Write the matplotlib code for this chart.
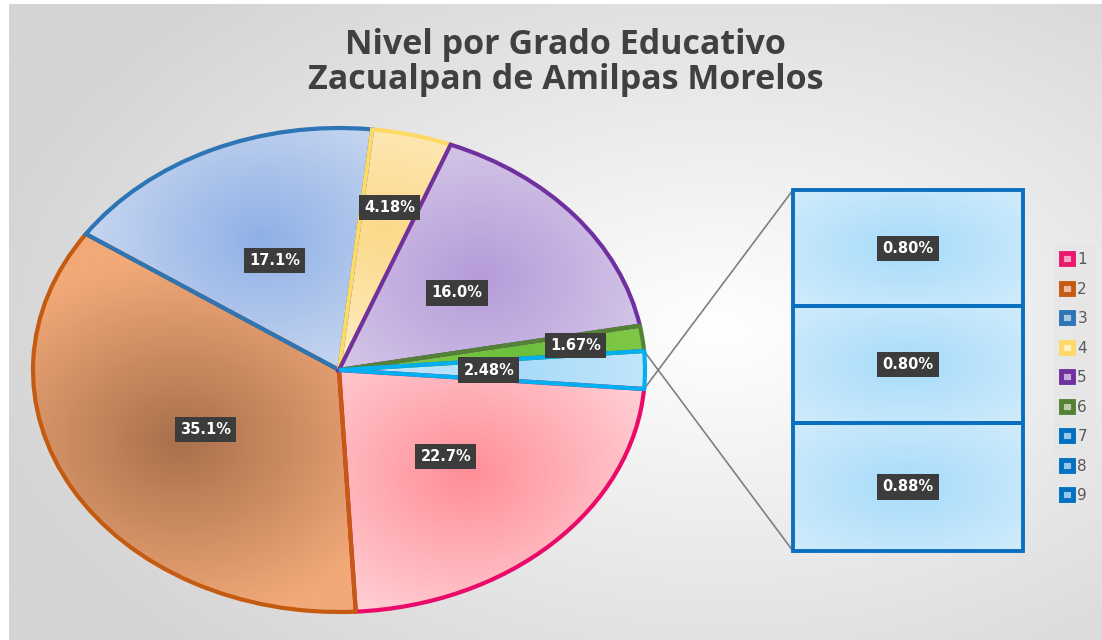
import numpy as np
import matplotlib
matplotlib.use('Agg')
import matplotlib.pyplot as plt
from matplotlib.colors import to_rgb
from matplotlib.patches import Patch, ConnectionPatch

# datos
grados = ['1', '2', '3', '4', '5', '6', '7', '8', '9']
porcentajes = [22.7, 35.1, 17.1, 4.18, 16.0, 1.67, 0.80, 0.80, 0.88]
etiquetas = ['22.7%', '35.1%', '17.1%', '4.18%', '16.0%', '1.67%', '0.80%', '0.80%', '0.88%']
etiqueta_otros = '2.48%'

# colores: borde, centro del degradado, orilla del degradado
bordes = ['#ea0a6a', '#c55a11', '#2e75b6', '#ffd966', '#7030a0', '#548235', '#00b0f0']
centros = ['#ff8e98', '#a8704c', '#8fb0e6', '#fcd98a', '#b59bd9', '#6cbf3c', '#a8dbf9']
orillas = ['#ffd8dc', '#f2a978', '#d6e1f3', '#fff2d4', '#ddd3ec', '#92d050', '#d6eefc']
leyenda_colores = ['#e8196e', '#c55a11', '#2e75b6', '#ffd966', '#7030a0', '#548235',
                   '#0070c0', '#0070c0', '#0070c0']
dist_etiquetas = [0.5, 0.5, 0.5, 0.69, 0.5, 0.78, 0.49]

W, H = 1102, 640
fig = plt.figure(figsize=(W / 100, H / 100), dpi=100)


def degradado(ax, patch, cx, cy, rx, ry, c_in, c_out, extent, z):
    xs = np.linspace(extent[0], extent[1], 220)
    ys = np.linspace(extent[2], extent[3], 220)
    X, Y = np.meshgrid(xs, ys)
    t = np.clip(np.sqrt(((X - cx) / rx) ** 2 + ((Y - cy) / ry) ** 2), 0, 1)[..., None]
    img = np.array(to_rgb(c_in)) * (1 - t) + np.array(to_rgb(c_out)) * t
    im = ax.imshow(img, extent=extent, origin='lower', aspect='auto', zorder=z,
                   interpolation='bilinear')
    im.set_clip_path(patch)
    return im


# fondo
ax_bg = fig.add_axes([0, 0, 1, 1], zorder=-10)
ax_bg.set_xlim(0, W)
ax_bg.set_ylim(H, 0)
ax_bg.axis('off')
xs = np.linspace(9, W, 400)
ys = np.linspace(4, H, 300)
X, Y = np.meshgrid(xs, ys)
t = np.clip(np.sqrt(((X - 720) / 760) ** 2 + ((Y - 330) / 460) ** 2), 0, 1)[..., None]
bg = np.array(to_rgb('#ffffff')) * (1 - t) + np.array(to_rgb('#d4d4d4')) * t
ax_bg.imshow(bg, extent=(9, W, H, 4), aspect='auto', interpolation='bilinear')

# titulo
fig.text(0.513, 0.902, 'Nivel por Grado Educativo\nZacualpan de Amilpas Morelos',
         ha='center', va='center', fontsize=24.5, fontweight='bold',
         family='Open Sans', color='#404040', linespacing=1.05)

# pastel (elipse)
ax_pie = fig.add_axes([33 / W, (H - 612) / H, 612 / W, 484 / H])
otros = sum(porcentajes[6:])
valores_pie = porcentajes[:6] + [otros]
total = sum(valores_pie)
inicio = -360 * otros / total / 2
wedges, _ = ax_pie.pie(valores_pie, startangle=inicio, counterclock=False,
                       radius=1, wedgeprops=dict(linewidth=3))
ax_pie.set_aspect('auto')
ax_pie.axis('off')

caja = dict(boxstyle='square,pad=0.35', fc='#3c3c3c', ec='none')
etq_pie = etiquetas[:6] + [etiqueta_otros]
for i, w in enumerate(wedges):
    w.set_facecolor('none')
    w.set_edgecolor(bordes[i])
    w.set_zorder(3)
    w.set_clip_on(False)
    mid = np.deg2rad((w.theta1 + w.theta2) / 2)
    gx, gy = 0.6 * np.cos(mid), 0.6 * np.sin(mid)
    degradado(ax_pie, w, gx, gy, 0.75, 0.75, centros[i], orillas[i], (-1, 1, -1, 1), 1)
    d = dist_etiquetas[i]
    ax_pie.text(d * np.cos(mid), d * np.sin(mid), etq_pie[i], ha='center', va='center',
                color='white', fontsize=10.5, fontweight='bold', zorder=5, bbox=caja)
ax_pie.set_xlim(-1, 1)
ax_pie.set_ylim(-1, 1)

# barra de "otros"
ax_bar = fig.add_axes([793 / W, (H - 551) / H, 230 / W, 361 / H])
vals_bar = porcentajes[6:][::-1]
etq_bar = etiquetas[6:][::-1]
abajo = np.concatenate([[0], np.cumsum(vals_bar)[:-1]])
rects = ax_bar.bar(0, vals_bar, bottom=abajo, width=1, facecolor='none',
                   edgecolor='#0b6fc0', linewidth=2.8, zorder=3)
ax_bar.axis('off')
for r, b, v, lab in zip(rects, abajo, vals_bar, etq_bar):
    r.set_clip_on(False)
    degradado(ax_bar, r, 0, b + v / 2, 0.75, v * 0.75, '#a6dbfa', '#d4edfc',
              (-0.5, 0.5, b, b + v), 1)
    ax_bar.text(0, b + v / 2, lab, ha='center', va='center', color='white',
                fontsize=10.5, fontweight='bold', zorder=5, bbox=caja)
ax_bar.set_xlim(-0.5, 0.5)
ax_bar.set_ylim(0, sum(vals_bar))

# lineas de conexion
wo = wedges[-1]
for ang, yb in [(wo.theta1, sum(vals_bar)), (wo.theta2, 0)]:
    a = np.deg2rad(ang)
    con = ConnectionPatch(xyA=(np.cos(a), np.sin(a)), coordsA=ax_pie.transData,
                          xyB=(-0.5, yb), coordsB=ax_bar.transData,
                          color='#7f7f7f', linewidth=1.2, zorder=0)
    fig.add_artist(con)

# leyenda
handles = []
for c in leyenda_colores:
    rgb = np.array(to_rgb(c))
    handles.append(Patch(facecolor=tuple(rgb * 0.4 + 0.6), edgecolor=c, linewidth=3.5))
leg = fig.legend(handles, grados, loc='center left', bbox_to_anchor=(1046 / W, 0.41),
                 frameon=True, fontsize=11, labelspacing=0.95, handlelength=0.75,
                 handleheight=0.75, handletextpad=0.3, borderpad=0.5, fancybox=False)
leg.get_frame().set_facecolor('#e6e6e6')
leg.get_frame().set_edgecolor('none')
for txt in leg.get_texts():
    txt.set_color('#595959')

fig.savefig('out.png', dpi=100)
